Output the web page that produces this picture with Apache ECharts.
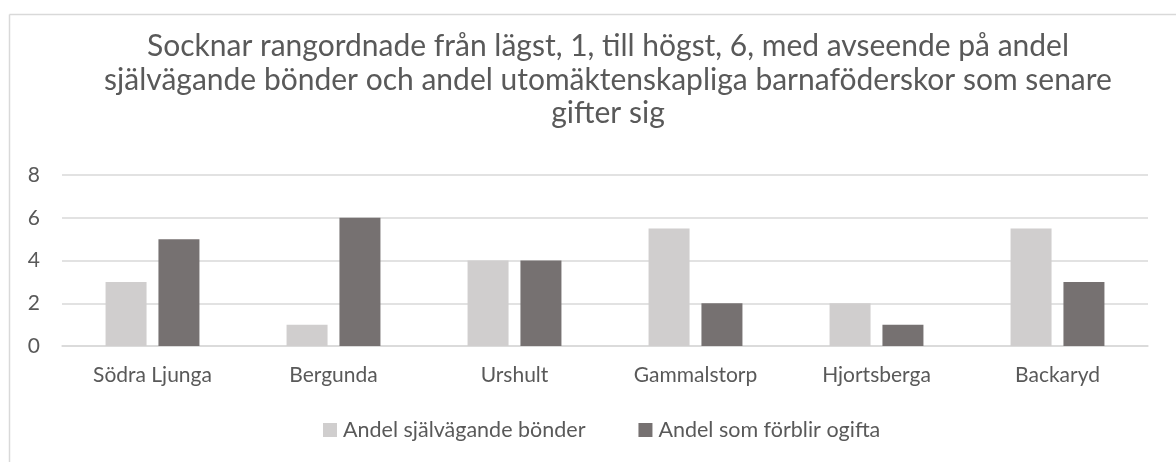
<!DOCTYPE html>
<html><head><meta charset="utf-8">
<script src="https://cdn.jsdelivr.net/npm/echarts@6/dist/echarts.min.js"></script>
<style>html,body{margin:0;padding:0;background:#fff}#c{width:1176px;height:462px}</style>
</head><body><div id="c"></div>
<script>
var categories = ['Södra Ljunga', 'Bergunda', 'Urshult', 'Gammalstorp', 'Hjortsberga', 'Backaryd'];
var seriesNames = ['Andel självägande bönder', 'Andel som förblir ogifta'];
var selfOwning = [3, 1, 4, 5.5, 2, 5.5];
var unmarried = [5, 6, 4, 2, 1, 3];
var titleText = 'Socknar rangordnade från lägst, 1, till högst, 6, med avseende på andel\nsjälvägande bönder och andel utomäktenskapliga barnaföderskor som senare\ngifter sig';

var font = 'Lato, "Noto Sans", sans-serif';
var chart = echarts.init(document.getElementById('c'));
chart.setOption({
  animation: false,
  color: ['#d0cece', '#767171'],
  title: {
    text: titleText, left: 603, top: 25, textAlign: 'center',
    textStyle: { fontFamily: font, fontSize: 30, fontWeight: 'normal', color: '#595959', lineHeight: 33.5 }
  },
  legend: {
    data: seriesNames, top: 419, left: 323, padding: 0, itemWidth: 14, itemHeight: 14, itemGap: 53,
    icon: 'rect',
    textStyle: { fontFamily: font, fontSize: 21.5, color: '#595959', padding: [0, 0, 0, 1] }
  },
  grid: { left: 62, right: 28, top: 175, bottom: 116 },
  xAxis: {
    type: 'category', data: categories,
    axisLine: { lineStyle: { color: '#d9d9d9', width: 1.5 } },
    axisTick: { show: false },
    axisLabel: { fontFamily: font, fontSize: 21, color: '#595959', margin: 19 }
  },
  yAxis: {
    type: 'value', min: 0, max: 8, interval: 2,
    axisLine: { show: false }, axisTick: { show: false },
    splitLine: { lineStyle: { color: '#d9d9d9', width: 1.5 } },
    axisLabel: { fontFamily: font, fontSize: 21, color: '#595959', margin: 22 }
  },
  series: [
    { name: seriesNames[0], type: 'bar', data: selfOwning, barWidth: 41, barGap: '29%' },
    { name: seriesNames[1], type: 'bar', data: unmarried, barWidth: 41, barGap: '29%' }
  ],
  graphic: [
    { type: 'line', shape: { x1: 9.5, y1: 14.5, x2: 1176, y2: 14.5 }, style: { stroke: '#d9d9d9', lineWidth: 1.5 } },
    { type: 'line', shape: { x1: 9.5, y1: 14.5, x2: 9.5, y2: 462 }, style: { stroke: '#d9d9d9', lineWidth: 1.5 } }
  ]
});
</script></body></html>
